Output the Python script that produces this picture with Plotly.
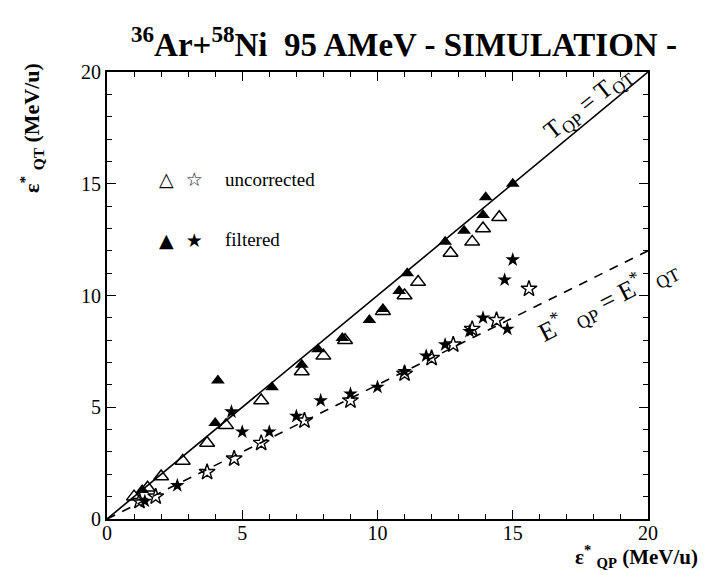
import plotly.graph_objects as go

# ---- data (MeV/u) ----
unc_tri_x = [1.0, 1.5, 2.0, 2.8, 3.7, 4.4, 5.7, 7.2, 8.0, 8.8, 10.2, 11.0, 11.5, 12.7, 13.5, 13.9, 14.5]
unc_tri_y = [1.0, 1.4, 1.9, 2.6, 3.4, 4.2, 5.3, 6.6, 7.3, 8.0, 9.3, 10.0, 10.6, 11.9, 12.4, 13.0, 13.5]

fil_tri_x = [1.3, 4.0, 4.1, 6.1, 7.2, 7.8, 8.7, 9.7, 10.2, 10.8, 11.1, 12.5, 13.2, 13.9, 14.0, 15.0]
fil_tri_y = [1.3, 4.3, 6.2, 5.9, 6.9, 7.6, 8.1, 8.9, 9.4, 10.2, 11.0, 12.4, 12.9, 13.6, 14.4, 15.0]

unc_star_x = [1.2, 1.8, 3.7, 4.7, 5.7, 7.3, 9.0, 11.0, 12.0, 12.8, 13.5, 14.4, 15.6]
unc_star_y = [0.8, 1.0, 2.1, 2.7, 3.4, 4.4, 5.3, 6.5, 7.2, 7.8, 8.5, 8.9, 10.3]

fil_star_x = [1.4, 2.6, 4.6, 5.0, 6.0, 7.0, 7.9, 9.0, 10.0, 11.0, 11.8, 12.5, 13.4, 13.9, 14.8, 14.7, 15.0]
fil_star_y = [0.8, 1.5, 4.8, 3.9, 3.9, 4.6, 5.3, 5.6, 5.9, 6.6, 7.3, 7.8, 8.4, 9.0, 8.5, 10.7, 11.6]

line_T_x = [0, 20]
line_T_y = [0, 20]
line_E_x = [0, 20]
line_E_y = [0, 12]

tick_vals = [0, 5, 10, 15, 20]
tick_text = ["0", "5", "10", "15", "20"]

SERIF = "Liberation Serif, Times New Roman, serif"

fig = go.Figure()
fig.add_trace(go.Scatter(x=line_T_x, y=line_T_y, mode="lines",
                         line=dict(color="black", width=1.6), showlegend=False))
fig.add_trace(go.Scatter(x=line_E_x, y=line_E_y, mode="lines",
                         line=dict(color="black", width=1.6, dash="9px,8px"), showlegend=False))
fig.add_trace(go.Scatter(x=unc_tri_x, y=unc_tri_y, mode="markers",
                         marker=dict(symbol="triangle-up-open", size=13, color="black",
                                     line=dict(width=1.5, color="black")), showlegend=False))
fig.add_trace(go.Scatter(x=fil_tri_x, y=fil_tri_y, mode="markers",
                         marker=dict(symbol="triangle-up", size=12, color="black"), showlegend=False))
fig.add_trace(go.Scatter(x=unc_star_x, y=unc_star_y, mode="markers",
                         marker=dict(symbol="star-open", size=12, color="black",
                                     line=dict(width=1.4, color="black")), showlegend=False))
fig.add_trace(go.Scatter(x=fil_star_x, y=fil_star_y, mode="markers",
                         marker=dict(symbol="star", size=11, color="black"), showlegend=False))

axis_common = dict(range=[0, 20], tickvals=tick_vals, ticktext=tick_text,
                   showgrid=False, zeroline=False, showline=True, linecolor="black",
                   linewidth=2, mirror="allticks", ticks="inside", ticklen=9,
                   tickwidth=1.2, tickcolor="black",
                   tickfont=dict(family=SERIF, size=20, color="black"),
                   minor=dict(dtick=1, ticks="inside", ticklen=5, tickcolor="black", tickwidth=1))

fig.update_xaxes(**axis_common, ticklabelstandoff=-5)
fig.update_yaxes(**axis_common, ticklabelstandoff=0)

ann = []
ann.append(dict(text="<b><sup>36</sup>Ar+<sup>58</sup>Ni  95 AMeV - SIMULATION -</b>",
                xref="paper", yref="paper", x=0.549, y=1.0, yshift=30, yanchor="middle",
                showarrow=False, font=dict(family=SERIF, size=33, color="black")))
ann.append(dict(text="<b>ε<sup>*</sup> <sub>QP</sub> (MeV/u)</b>", xref="paper", yref="paper",
                x=1.096, y=0, yshift=-37, xanchor="right", yanchor="middle", showarrow=False,
                font=dict(family=SERIF, size=21, color="black")))
ann.append(dict(text="<b>ε<sup>*</sup> <sub>QT</sub> (MeV/u)</b>", xref="paper", yref="paper",
                x=0, xshift=-75, xanchor="center", y=0.875, yanchor="middle", textangle=-90,
                showarrow=False, font=dict(family=SERIF, size=22, color="black")))
ann.append(dict(text="T<sub>QP</sub> = T<sub>QT</sub>", x=17.8, y=18.6, textangle=-38,
                showarrow=False, font=dict(family=SERIF, size=25, color="black")))
ann.append(dict(text="E<sup>*</sup>  <sub>QP</sub> = E<sup>*</sup>  <sub>QT</sub>", x=18.5, y=9.8,
                textangle=-27, showarrow=False, font=dict(family=SERIF, size=26, color="black")))
ann.append(dict(text="△  ☆", x=1.85, y=15.2, xanchor="left", showarrow=False,
                font=dict(family="DejaVu Sans", size=19, color="black")))
ann.append(dict(text="uncorrected", x=4.3, y=15.2, xanchor="left", showarrow=False,
                font=dict(family=SERIF, size=19, color="black")))
ann.append(dict(text="▲  ★", x=1.85, y=12.5, xanchor="left", showarrow=False,
                font=dict(family="DejaVu Sans", size=19, color="black")))
ann.append(dict(text="filtered", x=4.3, y=12.5, xanchor="left", showarrow=False,
                font=dict(family=SERIF, size=19, color="black")))

fig.update_layout(width=708, height=567, margin=dict(l=99, r=68, t=64, b=56),
                  plot_bgcolor="white", paper_bgcolor="white", annotations=ann,
                  showlegend=False)

fig.write_html("out.html")
